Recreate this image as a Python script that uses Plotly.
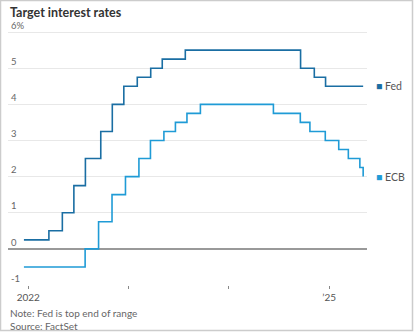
import plotly.graph_objects as go

# Fed funds target (top end of range) — change dates and new levels
fed_dates = ["2021-12-16", "2022-03-17", "2022-05-05", "2022-06-16", "2022-07-28",
             "2022-09-22", "2022-11-03", "2022-12-15", "2023-02-02", "2023-03-23",
             "2023-05-04", "2023-07-27", "2024-09-19", "2024-11-08", "2024-12-19",
             "2025-05-05"]
fed_values = [0.25, 0.5, 1.0, 1.75, 2.5, 3.25, 4.0, 4.5, 4.75, 5.0, 5.25, 5.5,
              5.0, 4.75, 4.5, 4.5]

# ECB deposit facility rate
ecb_dates = ["2021-12-16", "2022-07-27", "2022-09-14", "2022-11-02", "2022-12-21",
             "2023-02-08", "2023-03-22", "2023-05-10", "2023-06-21", "2023-08-02",
             "2023-09-20", "2024-06-12", "2024-09-18", "2024-10-23", "2024-12-18",
             "2025-02-05", "2025-03-12", "2025-04-23", "2025-05-05"]
ecb_values = [-0.5, 0.0, 0.75, 1.5, 2.0, 2.5, 3.0, 3.25, 3.5, 3.75, 4.0,
              3.75, 3.5, 3.25, 3.0, 2.75, 2.5, 2.25, 2.0]

y_tickvals = [-1, 0, 1, 2, 3, 4, 5, 6]
y_ticktext = ["-1", "0", "1", "2", "3", "4", "5", "6%"]
x_tickvals = ["2022-01-01", "2023-01-01", "2024-01-01", "2025-01-01"]
x_ticktext = ["2022", "", "", "’25"]

title = "Target interest rates"
note = "Note: Fed is top end of range"
source = "Source: FactSet"

FED_C = "#1a6ea3"
ECB_C = "#1f9bd6"
FONT = "Lato"

W, H = 414, 332
ML, MR, MT, MB = 8, 47, 14, 47

fig = go.Figure()
fig.add_trace(go.Scatter(x=ecb_dates, y=ecb_values, mode="lines",
                         line=dict(color=ECB_C, width=1.6, shape="hv"),
                         hoverinfo="skip", showlegend=False))
fig.add_trace(go.Scatter(x=fed_dates, y=fed_values, mode="lines",
                         line=dict(color=FED_C, width=1.6, shape="hv"),
                         hoverinfo="skip", showlegend=False))

pw = W - ML - MR
ph = H - MT - MB
def px_x(p):
    return (p - ML) / pw
def px_y(p):
    return (H - MB - p) / ph

fig.update_layout(
    width=W, height=H,
    margin=dict(l=ML, r=MR, t=MT, b=MB),
    paper_bgcolor="white", plot_bgcolor="white",
    font=dict(family=FONT, color="#666666", size=10),
    xaxis=dict(range=["2021-10-19", "2025-05-19"], tickvals=x_tickvals,
               ticktext=x_ticktext, showgrid=False, zeroline=False,
               ticks="outside", ticklen=3, tickcolor="#888888", tickwidth=1,
               tickfont=dict(size=10, color="#555555"), showline=False,
               fixedrange=True),
    yaxis=dict(range=[-1, 6.5], tickvals=y_tickvals, ticktext=y_ticktext,
               showgrid=True, gridcolor="#e8e8e8", gridwidth=1,
               zeroline=True, zerolinecolor="#999999", zerolinewidth=1.5,
               ticks="", ticklabelposition="inside top",
               tickfont=dict(size=9.5, color="#666666"), showline=False,
               fixedrange=True),
    annotations=[
        dict(text="<b>" + title + "</b>", xref="paper", yref="paper",
             x=px_x(8), y=px_y(12), xanchor="left", yanchor="middle",
             showarrow=False, font=dict(size=12.5, color="#333333", family=FONT)),
        dict(text=note, xref="paper", yref="paper", x=px_x(8), y=px_y(313),
             xanchor="left", yanchor="middle", showarrow=False,
             font=dict(size=10, color="#666666", family=FONT)),
        dict(text=source, xref="paper", yref="paper", x=px_x(8), y=px_y(326),
             xanchor="left", yanchor="middle", showarrow=False,
             font=dict(size=10, color="#666666", family=FONT)),
        dict(text=f"<span style='color:{FED_C}'>■</span> Fed", xref="paper", yref="y",
             x=px_x(374), y=fed_values[-1], xanchor="left", yanchor="middle",
             showarrow=False, font=dict(size=10.5, color="#555555", family=FONT)),
        dict(text=f"<span style='color:{ECB_C}'>■</span> ECB", xref="paper", yref="y",
             x=px_x(374), y=ecb_values[-1], xanchor="left", yanchor="middle",
             showarrow=False, font=dict(size=10.5, color="#555555", family=FONT)),
    ],
    shapes=[
        dict(type="rect", xref="paper", yref="paper",
             x0=px_x(0.5), x1=px_x(412.5), y0=px_y(0.5), y1=px_y(330.5),
             line=dict(color="#cccccc", width=1.5), fillcolor="rgba(0,0,0,0)",
             layer="below"),
    ],
)

fig.write_html("out.html")
